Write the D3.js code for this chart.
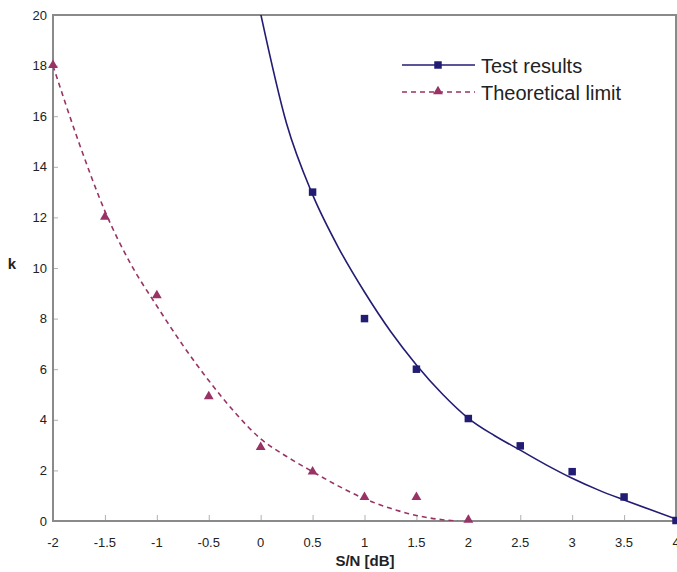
<!DOCTYPE html>
<html>
<head>
<meta charset="utf-8">
<script src="https://cdn.jsdelivr.net/npm/d3@7"></script>
<style>
  body { margin: 0; background: #fff; }
  svg text { font-family: "Liberation Sans", Arial, sans-serif; }
</style>
</head>
<body>
<div id="chart"></div>
<script>
// measured points
var testX = [0.5, 1, 1.5, 2, 2.5, 3, 3.5, 4];
var testK = [13, 8, 6, 4.05, 2.97, 1.95, 0.95, 0.02];
var theoX = [-2, -1.5, -1, -0.5, 0, 0.5, 1, 1.5, 2];
var theoK = [18, 12, 8.9, 4.9, 2.9, 1.93, 0.92, 0.92, 0.02];

// trend lines
var testTrendX = [0, 0.25, 0.5, 0.75, 1, 1.25, 1.5, 1.75, 2, 2.25, 2.5, 2.75, 3, 3.25, 3.5, 3.75, 4];
var testTrendK = [20.05, 15.7, 12.9, 10.8, 9.05, 7.5, 6.17, 5.02, 4.06, 3.38, 2.8, 2.22, 1.69, 1.23, 0.83, 0.45, 0.08];
var theoTrendX = [-2, -1.75, -1.5, -1.25, -1, -0.75, -0.5, -0.25, 0, 0.25, 0.5, 0.75, 1, 1.25, 1.5, 1.75, 1.9];
var theoTrendK = [18, 14.95, 12.25, 10.15, 8.5, 6.95, 5.55, 4.3, 3.25, 2.55, 1.95, 1.38, 0.88, 0.5, 0.22, 0.05, 0];

var xTicks = [-2, -1.5, -1, -0.5, 0, 0.5, 1, 1.5, 2, 2.5, 3, 3.5, 4];
var yTicks = [0, 2, 4, 6, 8, 10, 12, 14, 16, 18, 20];
var seriesNames = ["Test results", "Theoretical limit"];

var W = 677, H = 572;
var m = {left: 53, right: 1, top: 15, bottom: 51};
var blue = "#231c73", plum = "#993366", axisCol = "#8a8a8a";

var svg = d3.select("#chart").append("svg")
    .attr("width", W).attr("height", H);

var x = d3.scaleLinear().domain([-2, 4]).range([m.left, W - m.right]);
var y = d3.scaleLinear().domain([0, 20]).range([H - m.bottom, m.top]);

// clip for trend lines
svg.append("clipPath").attr("id", "plot")
  .append("rect")
    .attr("x", m.left).attr("y", m.top)
    .attr("width", W - m.right - m.left).attr("height", H - m.bottom - m.top);

// axes: ticks drawn inward
var xAxis = svg.append("g")
    .attr("transform", "translate(0," + y(0) + ")")
    .call(d3.axisTop(x).tickValues(xTicks).tickSize(6).tickFormat(""));
var yAxis = svg.append("g")
    .attr("transform", "translate(" + x(-2) + ",0)")
    .call(d3.axisRight(y).tickValues(yTicks).tickSize(5).tickFormat(""));
[xAxis, yAxis].forEach(function(g){
    g.select(".domain").remove();
    g.selectAll(".tick line").attr("stroke", "#b0b0b0").attr("stroke-width", 1);
});

// frame
svg.append("rect")
    .attr("x", x(-2)).attr("y", y(20))
    .attr("width", x(4) - x(-2)).attr("height", y(0) - y(20))
    .attr("fill", "none").attr("stroke", axisCol).attr("stroke-width", 2);

// tick labels
svg.append("g").selectAll("text").data(xTicks).enter().append("text")
    .attr("x", function(d){ return x(d); })
    .attr("y", y(0) + 26)
    .attr("text-anchor", "middle")
    .attr("font-size", 13).attr("fill", "#222")
    .text(function(d){ return d; });
svg.append("g").selectAll("text").data(yTicks).enter().append("text")
    .attr("x", x(-2) - 6)
    .attr("y", function(d){ return y(d) + 4.5; })
    .attr("text-anchor", "end")
    .attr("font-size", 13).attr("fill", "#222")
    .text(function(d){ return d; });

// axis titles
svg.append("text")
    .attr("x", 365).attr("y", 566)
    .attr("text-anchor", "middle")
    .attr("font-size", 15).attr("font-weight", "bold").attr("fill", "#222")
    .text("S/N [dB]");
svg.append("text")
    .attr("x", 12).attr("y", 269)
    .attr("text-anchor", "middle")
    .attr("font-size", 15).attr("font-weight", "bold").attr("fill", "#222")
    .text("k");

// trend lines
var line = d3.line()
    .x(function(d){ return x(d[0]); })
    .y(function(d){ return y(d[1]); })
    .curve(d3.curveMonotoneX);

svg.append("path")
    .datum(d3.zip(testTrendX, testTrendK))
    .attr("clip-path", "url(#plot)")
    .attr("d", line)
    .attr("fill", "none").attr("stroke", blue).attr("stroke-width", 1.6);
svg.append("path")
    .datum(d3.zip(theoTrendX, theoTrendK))
    .attr("clip-path", "url(#plot)")
    .attr("d", line)
    .attr("fill", "none").attr("stroke", plum).attr("stroke-width", 1.6)
    .attr("stroke-dasharray", "5,4");

// markers
var sq = d3.symbol().type(d3.symbolSquare).size(56);
var tri = d3.symbol().type(d3.symbolTriangle).size(42);

svg.append("g").selectAll("path").data(d3.zip(testX, testK)).enter().append("path")
    .attr("d", sq)
    .attr("transform", function(d){ return "translate(" + x(d[0]) + "," + y(d[1]) + ")"; })
    .attr("fill", blue);
svg.append("g").selectAll("path").data(d3.zip(theoX, theoK)).enter().append("path")
    .attr("d", tri)
    .attr("transform", function(d){ return "translate(" + x(d[0]) + "," + (y(d[1]) - 0.5) + ")"; })
    .attr("fill", plum);

// legend
var legend = svg.append("g");
var legY = [65, 92];
seriesNames.forEach(function(name, i){
    var g = legend.append("g").attr("transform", "translate(0," + legY[i] + ")");
    g.append("line")
        .attr("x1", 402).attr("x2", 475).attr("y1", 0).attr("y2", 0)
        .attr("stroke", i == 0 ? blue : plum).attr("stroke-width", 1.6)
        .attr("stroke-dasharray", i == 0 ? null : "5,4");
    g.append("path")
        .attr("d", i == 0 ? sq : tri)
        .attr("transform", "translate(438," + (i == 0 ? 0 : -0.5) + ")")
        .attr("fill", i == 0 ? blue : plum);
    g.append("text")
        .attr("x", 481).attr("y", 7.5)
        .attr("font-size", 20).attr("fill", "#222")
        .text(name);
});
</script>
</body>
</html>
